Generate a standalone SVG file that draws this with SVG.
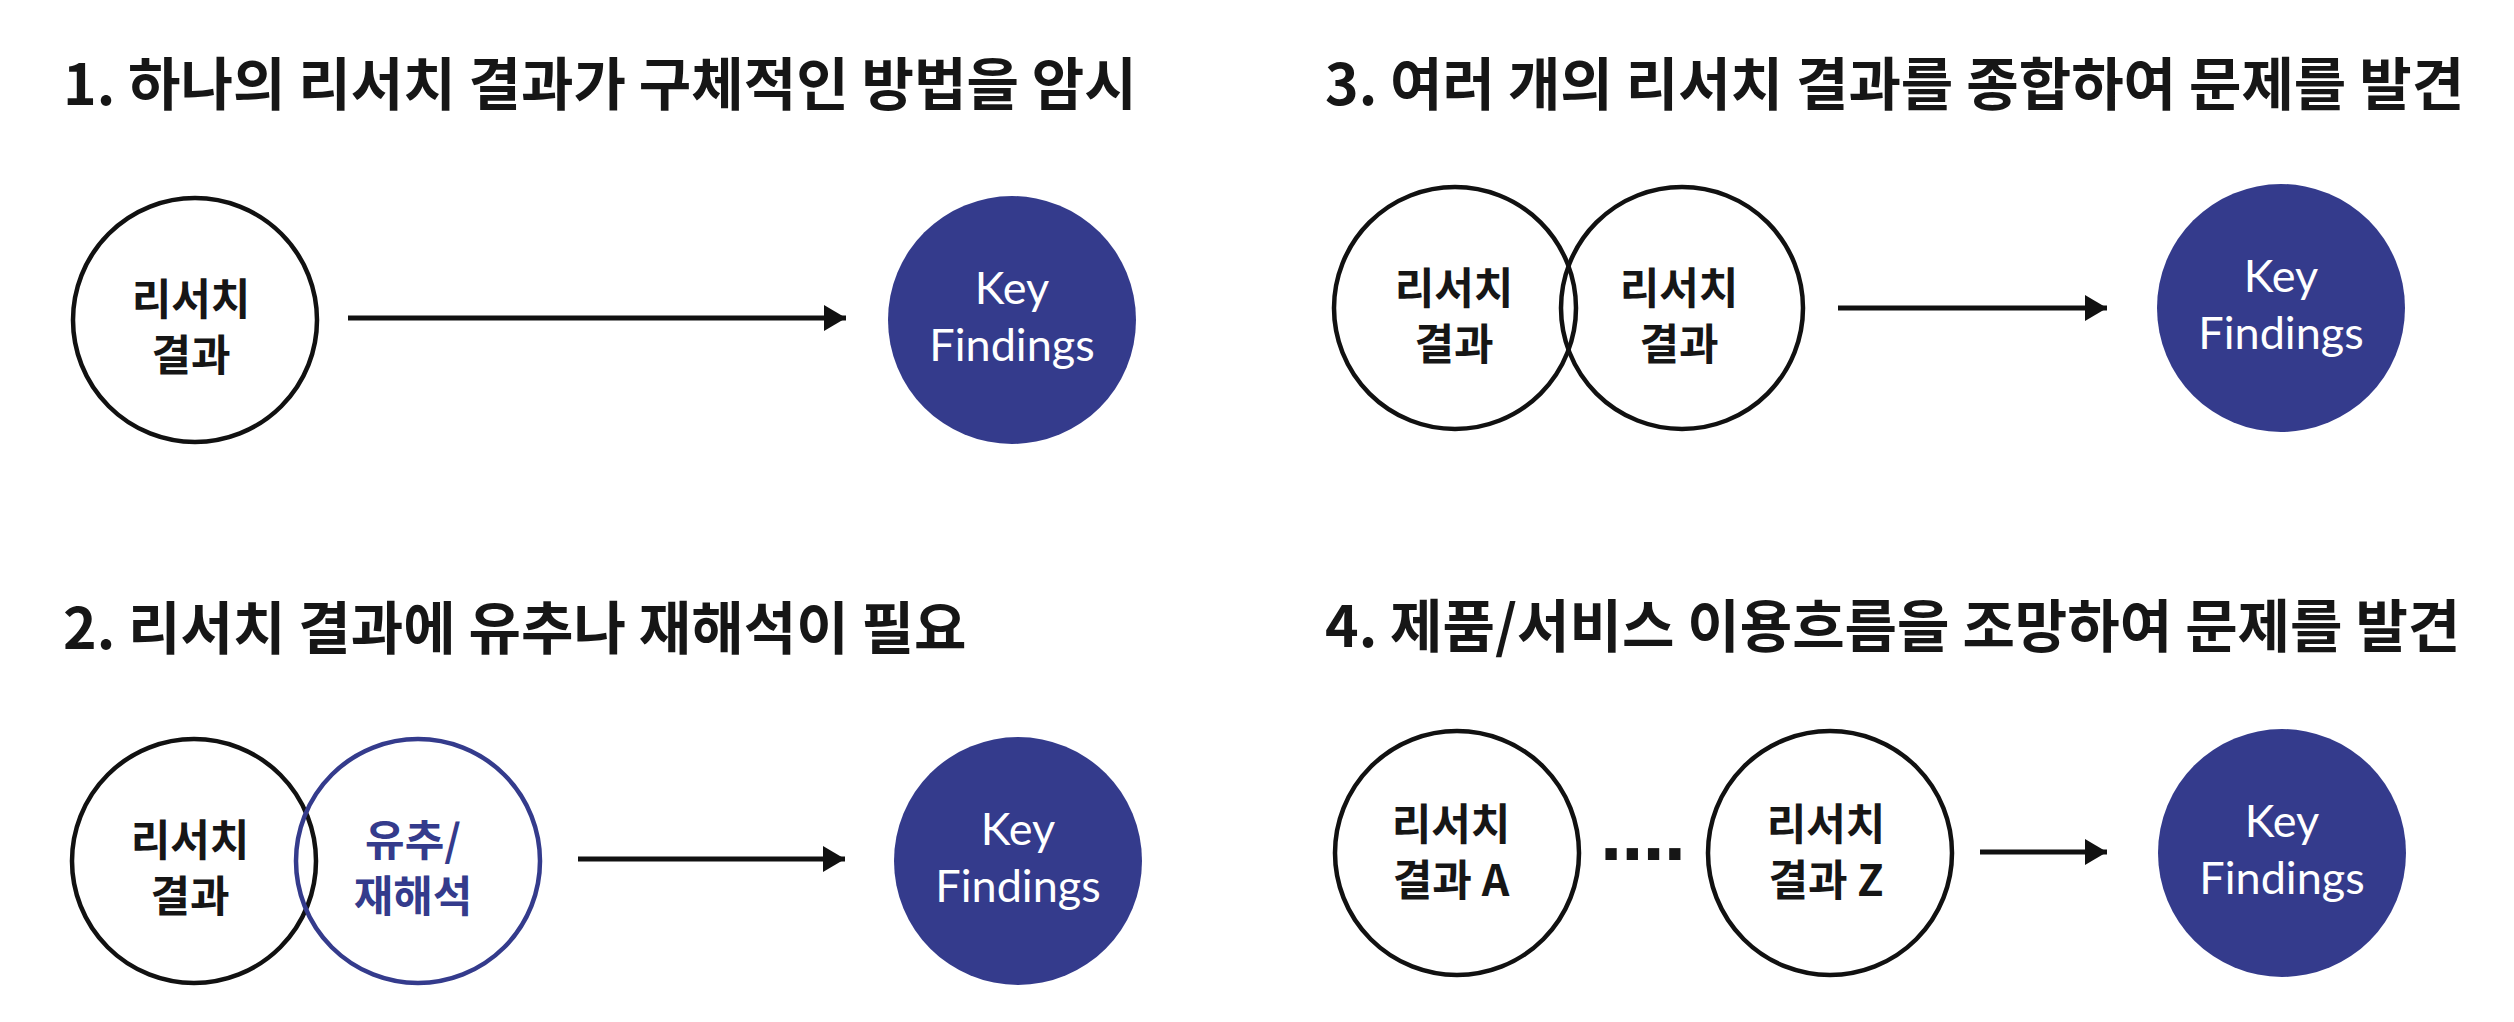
<svg xmlns="http://www.w3.org/2000/svg" width="2514" height="1022" viewBox="0 0 2514 1022">
<style>
.title{font-family:"Noto Sans CJK KR","Noto Sans",sans-serif;font-weight:700;font-size:57px;fill:#161616}
.lbl{font-family:"Noto Sans CJK KR","Noto Sans",sans-serif;font-weight:700;font-size:43px;fill:#161616;text-anchor:middle}
.lbl.blue{fill:#343b8c}
.kf{font-family:Lato,"Noto Sans",sans-serif;font-size:45px;fill:#ffffff;text-anchor:middle}
.ring{fill:#ffffff;stroke:#111111;stroke-width:4.5}
.ring.open{fill:none}
.ring.blue{fill:none;stroke:#343b8c}
.key{fill:#343b8c}
.conn{stroke:#111111;stroke-width:5;fill:none}
.dots{font-family:"Liberation Sans",sans-serif;font-weight:700;font-size:80px;fill:#161616;letter-spacing:-1px}
</style>
<defs>
<marker id="ah" markerUnits="userSpaceOnUse" markerWidth="24" markerHeight="28" refX="22" refY="14" orient="auto">
<path d="M0,1 L22,14 L0,27 z" fill="#111111"/>
</marker>
</defs>
<rect width="2514" height="1022" fill="#ffffff"/>

<g id="titles">
<text class="title" x="63" y="105">1. 하나의 리서치 결과가 구체적인 방법을 암시</text>
<text class="title" x="1325" y="105">3. 여러 개의 리서치 결과를 종합하여 문제를 발견</text>
<text class="title" x="63" y="649">2. 리서치 결과에 유추나 재해석이 필요</text>
<text class="title" x="1325" y="647">4. 제품/서비스 이용흐름을 조망하여 문제를 발견</text>
</g>

<g id="connectors">
<line class="conn" x1="348" y1="318" x2="846" y2="318" marker-end="url(#ah)"/>
<line class="conn" x1="578" y1="859" x2="845" y2="859" marker-end="url(#ah)"/>
<line class="conn" x1="1838" y1="308" x2="2107" y2="308" marker-end="url(#ah)"/>
<line class="conn" x1="1980" y1="852" x2="2107" y2="852" marker-end="url(#ah)"/>
</g>

<g id="p1-research">
<circle class="ring" cx="195" cy="320" r="122"/>
<text class="lbl" x="191" y="315"><tspan x="191">리서치</tspan><tspan x="191" dy="56">결과</tspan></text>
</g>
<g id="p1-key">
<circle class="key" cx="1012" cy="320" r="124"/>
<text class="kf" x="1012" y="304"><tspan x="1012">Key</tspan><tspan x="1012" dy="57">Findings</tspan></text>
</g>

<g id="p2-research">
<circle class="ring" cx="194" cy="861" r="122"/>
<text class="lbl" x="190" y="856"><tspan x="190">리서치</tspan><tspan x="190" dy="56">결과</tspan></text>
</g>
<g id="p2-analogy">
<circle class="ring blue" cx="418" cy="861" r="122"/>
<text class="lbl blue" x="413" y="856"><tspan x="413">유추/</tspan><tspan x="413" dy="56">재해석</tspan></text>
</g>
<g id="p2-key">
<circle class="key" cx="1018" cy="861" r="124"/>
<text class="kf" x="1018" y="845"><tspan x="1018">Key</tspan><tspan x="1018" dy="57">Findings</tspan></text>
</g>

<g id="p3-research-a">
<circle class="ring" cx="1455" cy="308" r="121"/>
<text class="lbl" x="1454" y="304"><tspan x="1454">리서치</tspan><tspan x="1454" dy="56">결과</tspan></text>
</g>
<g id="p3-research-b">
<circle class="ring open" cx="1682" cy="308" r="121"/>
<text class="lbl" x="1679" y="304"><tspan x="1679">리서치</tspan><tspan x="1679" dy="56">결과</tspan></text>
</g>
<g id="p3-key">
<circle class="key" cx="2281" cy="308" r="124"/>
<text class="kf" x="2281" y="292"><tspan x="2281">Key</tspan><tspan x="2281" dy="57">Findings</tspan></text>
</g>

<g id="p4-research-a">
<circle class="ring" cx="1457" cy="853" r="122"/>
<text class="lbl" x="1451" y="840"><tspan x="1451">리서치</tspan><tspan x="1451" dy="56">결과 A</tspan></text>
</g>
<text class="dots" x="1600" y="860">....</text>
<g id="p4-research-z">
<circle class="ring" cx="1830" cy="853" r="122"/>
<text class="lbl" x="1826" y="840"><tspan x="1826">리서치</tspan><tspan x="1826" dy="56">결과 Z</tspan></text>
</g>
<g id="p4-key">
<circle class="key" cx="2282" cy="853" r="124"/>
<text class="kf" x="2282" y="837"><tspan x="2282">Key</tspan><tspan x="2282" dy="57">Findings</tspan></text>
</g>
</svg>
